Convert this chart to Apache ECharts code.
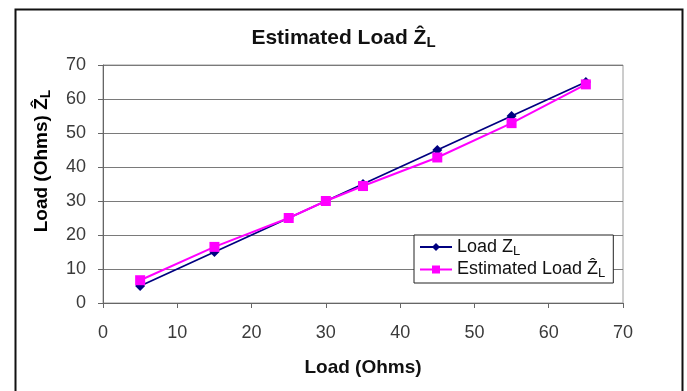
<!DOCTYPE html>
<html>
<head>
<meta charset="utf-8">
<script src="https://cdn.jsdelivr.net/npm/echarts@6/dist/echarts.min.js"></script>
<style>html,body{margin:0;padding:0;background:#fff}#c{width:687px;height:391px}</style>
</head>
<body>
<div id="c"></div>
<script>
const loadX = [5, 15, 25, 30, 35, 45, 55, 65];
const loadZL = [5, 15, 25, 30, 35, 45, 55, 65];
const estimatedZL = [6.7, 16.5, 25, 30, 34.4, 42.8, 52.9, 64.3];
const axisTicks = [0, 10, 20, 30, 40, 50, 60, 70];

const FONT = '"Liberation Sans", Arial, sans-serif';
const chart = echarts.init(document.getElementById('c'));
const subRich = (size, bold) => ({
  n: { fontFamily: FONT, fontSize: size, fontWeight: bold ? 'bold' : 'normal', color: '#111' },
  s: { fontFamily: FONT, fontSize: Math.round(size * 0.72), fontWeight: bold ? 'bold' : 'normal', color: '#111', padding: [Math.round(size * 0.45), 0, 0, 0] }
});

chart.setOption({
  animation: false,
  backgroundColor: '#fff',
  title: {
    text: '{n|Estimated Load Ẑ}{s|L}',
    left: 'center',
    top: 21,
    textStyle: { rich: subRich(21, true) }
  },
  grid: { left: 103, right: 64, top: 65, bottom: 88, show: true, borderColor: '#9a9a9a', borderWidth: 1 },
  legend: {
    orient: 'vertical',
    left: 414, top: 235,
    width: 194,
    padding: [3, 8, 3, 5],
    itemGap: 3,
    itemWidth: 32, itemHeight: 10,
    borderColor: '#222', borderWidth: 1,
    backgroundColor: '#fff',
    formatter: function (name) {
      return name === 'Load' ? '{n|Load Z}{s|L}' : '{n|Estimated Load Ẑ}{s|L}';
    },
    textStyle: { rich: subRich(18, false) },
    data: ['Load', 'Estimated']
  },
  xAxis: {
    type: 'value', min: 0, max: 70, interval: 10,
    name: 'Load (Ohms)', nameLocation: 'middle', nameGap: 55,
    nameTextStyle: { fontFamily: FONT, fontSize: 19, fontWeight: 'bold', color: '#111' },
    axisLine: { show: true, lineStyle: { color: '#666', width: 1 } },
    axisTick: { show: true, length: 5, lineStyle: { color: '#666' } },
    axisLabel: { margin: 21, fontFamily: FONT, fontSize: 18, color: '#3a3a3a',
      formatter: v => axisTicks.includes(v) ? String(v) : '' },
    splitLine: { show: false }
  },
  yAxis: {
    type: 'value', min: 0, max: 70, interval: 10,
    axisLine: { show: true, lineStyle: { color: '#666', width: 1 } },
    axisTick: { show: true, length: 5, lineStyle: { color: '#666' } },
    axisLabel: { margin: 17, fontFamily: FONT, fontSize: 18, color: '#3a3a3a',
      formatter: v => axisTicks.includes(v) ? String(v) : '' },
    splitLine: { show: true, lineStyle: { color: '#7a7a7a', width: 1 } }
  },
  graphic: [
    { type: 'rect', left: 13, top: 7, shape: { width: 667, height: 400 }, style: { fill: 'none', stroke: '#111', lineWidth: 2 }, z: 100, silent: true },
    { type: 'text', x: 42, y: 161, rotation: Math.PI / 2, z: 50,
      style: { text: '{n|Load (Ohms) Ẑ}{s|L}', align: 'center', verticalAlign: 'middle', rich: subRich(19, true) } }
  ],
  series: [
    {
      name: 'Load', type: 'line',
      data: loadX.map((x, i) => [x, loadZL[i]]),
      color: '#000080',
      symbol: 'diamond', symbolSize: 10,
      lineStyle: { width: 1.8, color: '#000080' },
      itemStyle: { color: '#000080' }
    },
    {
      name: 'Estimated', type: 'line',
      data: loadX.map((x, i) => [x, estimatedZL[i]]),
      color: '#ff00ff',
      symbol: 'rect', symbolSize: 10,
      lineStyle: { width: 2, color: '#ff00ff' },
      itemStyle: { color: '#ff00ff' }
    }
  ]
});
</script>
</body>
</html>
